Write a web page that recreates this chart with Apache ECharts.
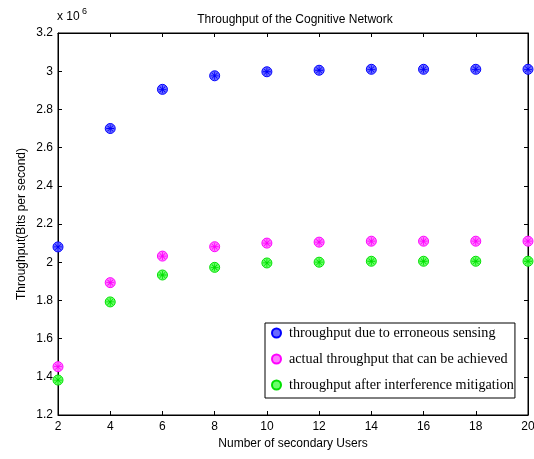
<!DOCTYPE html>
<html><head><meta charset="utf-8">
<script src="https://cdn.jsdelivr.net/npm/echarts@6/dist/echarts.min.js"></script>
<style>html,body{margin:0;padding:0;background:#fff}#c{width:534px;height:459px}</style>
</head><body><div id="c"></div>
<script>
const users = [2, 4, 6, 8, 10, 12, 14, 16, 18, 20];
const erroneous = [2.08, 2.70, 2.905, 2.976, 2.997, 3.005, 3.01, 3.01, 3.01, 3.01];
const actual = [1.453, 1.893, 2.032, 2.081, 2.10, 2.105, 2.11, 2.11, 2.11, 2.11];
const mitigated = [1.383, 1.792, 1.933, 1.973, 1.996, 2.0, 2.005, 2.005, 2.005, 2.005];
const seriesNames = ['throughput due to erroneous sensing', 'actual throughput that can be achieved', 'throughput after interference mitigation'];
const colors = ['#0000ff', '#ff00ff', '#00e000'];
const fills = ['#6a6aff', '#ff7aff', '#6aff6a'];

const chart = echarts.init(document.getElementById('c'));
const star = 'path://M45,0L55,0L55,100L45,100Z M0,45L100,45L100,55L0,55Z M12,19L19,12L88,81L81,88Z M81,12L88,19L19,88L12,81Z';
function mk(i, vals) {
  return {
    name: seriesNames[i], type: 'scatter', symbol: 'circle', symbolSize: 10,
    itemStyle: { color: fills[i], borderColor: colors[i], borderWidth: 1, opacity: 1 },
    data: users.map((u, k) => [u, vals[k]])
  };
}
function mkStar(i, vals) {
  return {
    name: seriesNames[i] + ' *', type: 'scatter', symbol: star, symbolSize: 8, silent: true,
    itemStyle: { color: colors[i], opacity: 1 },
    data: users.map((u, k) => [u, vals[k]])
  };
}
const axisFont = { fontFamily: 'Liberation Sans, Arial', fontSize: 12, color: '#000' };
chart.setOption({
  animation: false,
  title: { text: 'Throughput of the Cognitive Network', left: 290, top: 9, textAlign: 'center',
    textStyle: { fontFamily: 'Liberation Sans, Arial', fontSize: 12, fontWeight: 'normal', color: '#000' } },
  graphic: [{ type: 'text', left: 57, top: 11, style: { text: 'x 10', font: '12px Liberation Sans', fill: '#000' } },
            { type: 'text', left: 82, top: 7, style: { text: '6', font: '9px Liberation Sans', fill: '#000' } },
            { type: 'text', x: 22, y: 224, rotation: Math.PI/2, style: { text: 'Throughput(Bits per second)', font: '12px Liberation Sans', fill: '#000', align: 'center', verticalAlign: 'middle' } }],
  grid: { left: 58, right: 6, top: 33, bottom: 44, show: true, borderColor: '#000', borderWidth: 1, outerBoundsMode: 'none' },
  legend: {
    data: seriesNames,
    orient: 'vertical', left: 265, top: 323,
    backgroundColor: '#fff', borderColor: '#000', borderWidth: 1, padding: [2, 1, 5, 6],
    itemGap: 10, itemWidth: 9, itemHeight: 9,
    textStyle: { fontFamily: 'Liberation Serif, Times New Roman', fontSize: 14.2, lineHeight: 16, color: '#000', padding: [0, 0, 0, 3] }
  },
  xAxis: [{
    type: 'value', min: 2, max: 20, interval: 2, name: 'Number of secondary Users',
    nameLocation: 'middle', nameGap: 22, nameTextStyle: axisFont,
    axisLine: { show: true, lineStyle: { color: '#000' } },
    axisTick: { inside: true, length: 4, lineStyle: { color: '#000' } },
    axisLabel: Object.assign({ margin: 6 }, axisFont), splitLine: { show: false }
  }, {
    type: 'value', position: 'top', min: 2, max: 20, interval: 2,
    axisLine: { show: true, lineStyle: { color: '#000' } },
    axisTick: { inside: true, length: 4, lineStyle: { color: '#000' } },
    axisLabel: { show: false }, splitLine: { show: false }
  }],
  yAxis: [{
    type: 'value', min: 1.2, max: 3.2, interval: 0.2,
    axisLine: { show: true, lineStyle: { color: '#000' } },
    axisTick: { inside: true, length: 4, lineStyle: { color: '#000' } },
    axisLabel: Object.assign({ margin: 5, formatter: v => String(+v.toFixed(1)) }, axisFont),
    splitLine: { show: false }
  }, {
    type: 'value', position: 'right', min: 1.2, max: 3.2, interval: 0.2,
    axisLine: { show: true, lineStyle: { color: '#000' } },
    axisTick: { inside: true, length: 4, lineStyle: { color: '#000' } },
    axisLabel: { show: false }, splitLine: { show: false }
  }],
  series: [mk(0, erroneous), mk(1, actual), mk(2, mitigated),
           mkStar(0, erroneous), mkStar(1, actual), mkStar(2, mitigated)]
});
</script></body></html>
